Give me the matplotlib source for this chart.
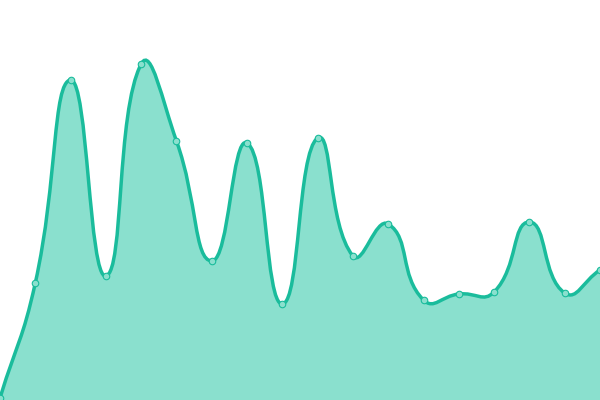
import numpy as np
import matplotlib
matplotlib.use("Agg")
import matplotlib.pyplot as plt
from matplotlib.path import Path
from matplotlib.patches import PathPatch

categories = list(range(18))
values = [2, 117, 320, 124, 336, 259, 139, 257, 96, 262, 144, 176, 100, 106, 108, 178, 107, 130]

LINE = "#1abc9c"
FILL = "#8ae0ce"
SMOOTH = 0.5

fig = plt.figure(figsize=(6, 4), dpi=100)
ax = fig.add_axes([0, 0, 1, 1])
ax.set_xlim(0, len(categories) - 1)
ax.set_ylim(0, 400)
ax.axis("off")

# compute in pixel-like space
sx = 600 / (len(categories) - 1)
P = np.array([[c * sx, v] for c, v in zip(categories, values)], dtype=float)
n = len(P)
cp_in = np.zeros_like(P)
cp_out = np.zeros_like(P)
for i in range(n):
    prev = P[i - 1] if i > 0 else P[i]
    nxt = P[i + 1] if i < n - 1 else P[i]
    v = nxt - prev
    d0 = np.hypot(*(P[i] - prev))
    d1 = np.hypot(*(nxt - P[i]))
    r = d1 / (d0 + d1) if (d0 + d1) > 0 else 0.5
    cp_in[i] = P[i] - v * SMOOTH * (1 - r)
    cp_out[i] = P[i] + v * SMOOTH * r

verts = [tuple(P[0])]
codes = [Path.MOVETO]
for i in range(1, n):
    verts += [tuple(cp_out[i - 1]), tuple(cp_in[i]), tuple(P[i])]
    codes += [Path.CURVE4] * 3

def to_data(pts):
    return [(x / sx, y) for x, y in pts]

line_verts = to_data(verts)
fill_verts = line_verts + [(categories[-1], 0), (categories[0], 0), line_verts[0]]
fill_codes = codes + [Path.LINETO, Path.LINETO, Path.CLOSEPOLY]

ax.add_patch(PathPatch(Path(fill_verts, fill_codes), facecolor=FILL, edgecolor="none", zorder=1))
ax.add_patch(PathPatch(Path(line_verts, codes), facecolor="none", edgecolor=LINE, lw=2.5, zorder=2))
ax.scatter(categories, values, s=22, facecolor=FILL, edgecolor=LINE, linewidths=0.8, zorder=3, clip_on=False)

fig.savefig("out.png", dpi=100)
